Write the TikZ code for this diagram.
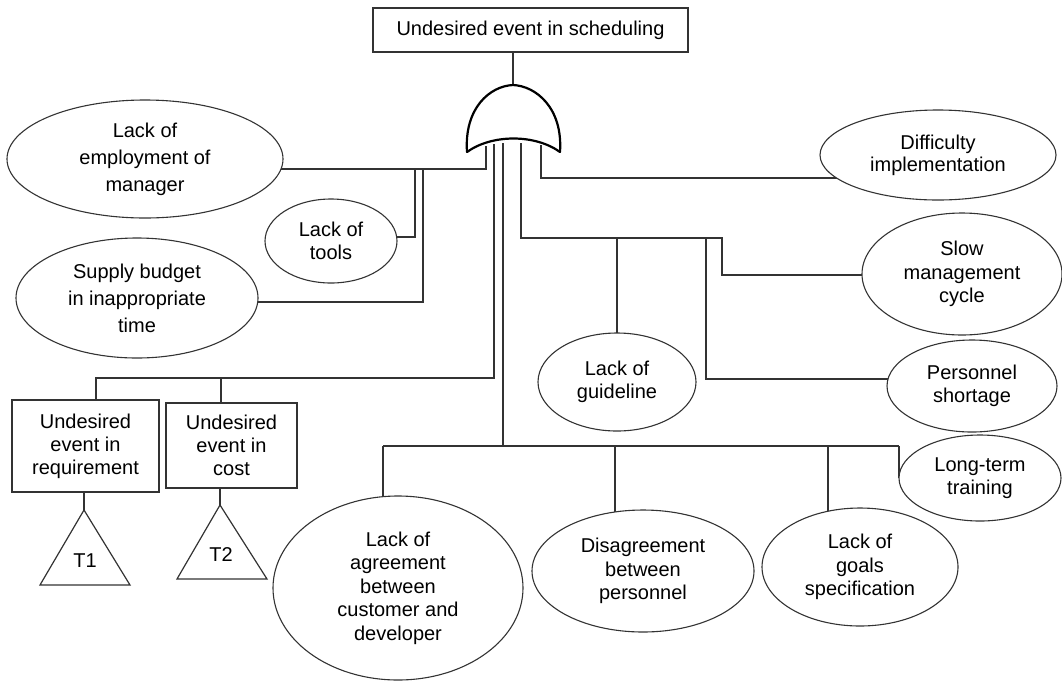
\documentclass[tikz,border=0pt]{standalone}
\usepackage{fontspec}
\setmainfont{Liberation Sans}
\usetikzlibrary{shapes.geometric}
\pgfdeclarelayer{bg}
\pgfsetlayers{bg,main}
\begin{document}
\begin{tikzpicture}[x=1pt,y=-1pt,
  ev/.style={ellipse,draw=black!80,line width=1.1pt,fill=white,inner sep=0pt,align=center,
    font=\fontsize{20}{23.5}\selectfont},
  evwide/.style={ev,font=\fontsize{20}{27}\selectfont},
  bx/.style={rectangle,draw=black!80,line width=1.2pt,fill=white,inner sep=0pt,align=center,
    font=\fontsize{20}{23}\selectfont},
  wire/.style={draw=black!80,line width=1.2pt},
  trishape/.style={draw=black!80,line width=1.2pt,fill=white,line join=miter},
  trilabel/.style={inner sep=0pt,font=\fontsize{20}{23}\selectfont},
  gateshape/.style={draw=black,line width=2.2pt,fill=white,line join=round}]
\useasboundingbox (0,0) rectangle (1062,681);

% top event
\node[bx,minimum width=315pt,minimum height=44pt] (top) at (530.5,30) {Undesired event in scheduling};

% ellipses
\node[evwide,minimum width=276pt,minimum height=118pt] (emp) at (145,159) {Lack of\\employment of\\manager};
\node[ev,minimum width=132pt,minimum height=84pt] (tools) at (331,241) {Lack of\\tools};
\node[evwide,minimum width=242pt,minimum height=120pt] (sup) at (137,298) {Supply budget\\in inappropriate\\time};
\node[ev,font=\fontsize{20}{22}\selectfont,minimum width=236pt,minimum height=90pt] (diff) at (938,155) {Difficulty\\implementation};
\node[ev,minimum width=200pt,minimum height=122pt] (slow) at (962,274) {Slow\\management\\cycle};
\node[ev,minimum width=170pt,minimum height=92pt] (pers) at (972,386) {Personnel\\shortage};
\node[ev,minimum width=162pt,minimum height=86pt] (long) at (980,478) {Long-term\\training};
\node[ev,minimum width=158pt,minimum height=98pt] (guide) at (617,382) {Lack of\\guideline};
\node[ev,minimum width=196pt,minimum height=118pt] (goals) at (860,567) {Lack of\\goals\\specification};
\node[ev,minimum width=222pt,minimum height=122pt] (dis) at (643,571) {Disagreement\\between\\personnel};
\node[ev,minimum width=250pt,minimum height=184pt] (agr) at (398,588) {Lack of\\agreement\\between\\customer and\\developer};

% sub-tree boxes
\node[bx,minimum width=147pt,minimum height=92pt] (req) at (85.5,446) {Undesired\\event in\\requirement};
\node[bx,minimum width=131pt,minimum height=85pt] (cost) at (231.5,445.5) {Undesired\\event in\\cost};

% transfer triangles
\coordinate (t1) at (84,510);
\coordinate (t2) at (220,505);
\draw[trishape] (t1) -- (130,585) -- (40,585) -- cycle;
\draw[trishape] (t2) -- (267,579) -- (177,579) -- cycle;
\node[trilabel] (T1) at (85,561) {T1};
\node[trilabel] (T2) at (221,555) {T2};

% gate
\coordinate (gtop) at (513,85);
\draw[gateshape] (467,152) .. controls (464,108) and (490,86) .. (gtop)
   .. controls (536,86) and (563,108) .. (560,152)
   .. controls (535,134) and (492,134) .. cycle;

% gate inputs
\coordinate (gi1) at (486,146);
\coordinate (gi2) at (494,144);
\coordinate (gi3) at (503,143);
\coordinate (gi4) at (521,143);
\coordinate (gi5) at (541,145);

% junctions
\coordinate (j1) at (486,169);
\coordinate (j1a) at (415,169);
\coordinate (j1b) at (423,169);
\coordinate (jt) at (415,237);
\coordinate (js) at (423,302);
\coordinate (j2) at (494,378);
\coordinate (j2a) at (96,378);
\coordinate (j2b) at (221,378);
\coordinate (j3) at (503,446);
\coordinate (b1) at (383,446);
\coordinate (b2) at (615,446);
\coordinate (b3) at (828,446);
\coordinate (b4) at (899,446);
\coordinate (j4) at (521,238);
\coordinate (j4a) at (617,238);
\coordinate (j4b) at (706,238);
\coordinate (j4c) at (722,238);
\coordinate (j4d) at (722,275);
\coordinate (j4e) at (706,379);
\coordinate (j5) at (541,178);

\begin{pgfonlayer}{bg}
  \draw[wire] (top.south -| gtop) -- (gtop);
  % left group
  \draw[wire] (gi1) -- (j1) -- (j1 -| emp);
  \draw[wire] (j1a) -- (jt) -- (jt -| tools);
  \draw[wire] (j1b) -- (js) -- (js -| sup);
  % sub-trees
  \draw[wire] (gi2) -- (j2) -- (j2a) -- (req.north -| j2a);
  \draw[wire] (j2b) -- (cost.north -| j2b);
  \draw[wire] (req.south -| t1) -- (t1);
  \draw[wire] (cost.south -| t2) -- (t2);
  % bottom bus
  \draw[wire] (gi3) -- (j3);
  \draw[wire] (b1) -- (b4);
  \draw[wire] (b1) -- (b1 |- agr);
  \draw[wire] (b2) -- (b2 |- dis);
  \draw[wire] (b3) -- (b3 |- goals);
  \draw[wire] (b4) -- (b4 |- long);
  % middle right group
  \draw[wire] (gi4) -- (j4) -- (j4c) -- (j4d) -- (j4d -| slow);
  \draw[wire] (j4a) -- (j4a |- guide);
  \draw[wire] (j4b) -- (j4e) -- (j4e -| pers);
  % difficulty
  \draw[wire] (gi5) -- (j5) -- (j5 -| diff);
\end{pgfonlayer}
\end{tikzpicture}
\end{document}
